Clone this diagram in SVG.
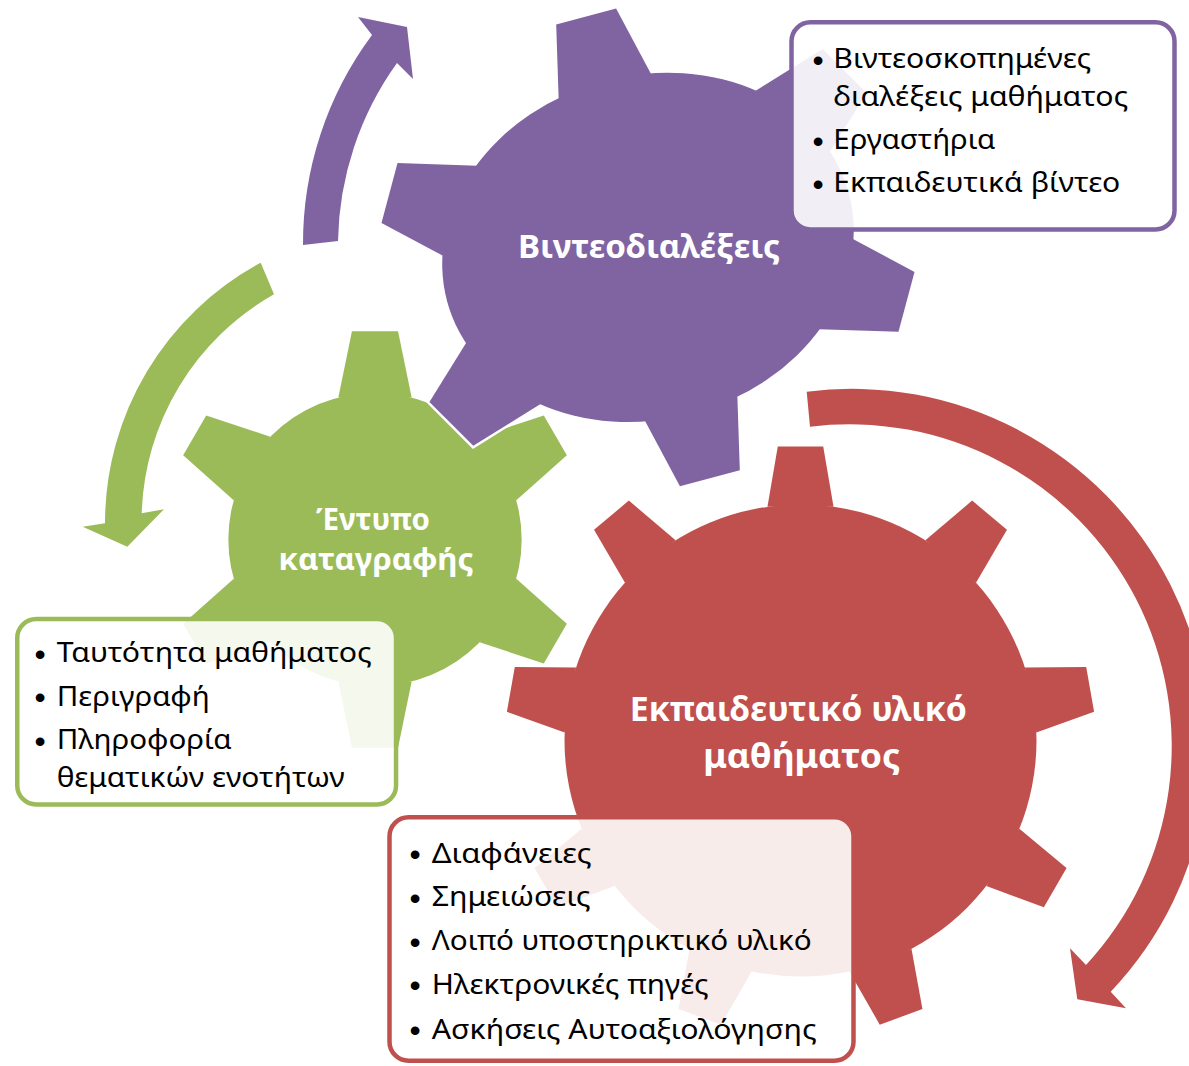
<svg xmlns="http://www.w3.org/2000/svg" xmlns:xlink="http://www.w3.org/1999/xlink" width="1189" height="1066" viewBox="0 0 1189 1066">
<defs>
<style>
.title{font-family:"Noto Sans","Open Sans","DejaVu Sans",sans-serif;font-weight:bold;fill:#ffffff;text-anchor:middle;}
.item{font-family:"Noto Sans","Open Sans","DejaVu Sans",sans-serif;font-size:26.5px;fill:#000000;}
.bul{font-family:"Liberation Sans",Arial,sans-serif;font-size:32px;fill:#000000;text-anchor:middle;}
.box{fill:#ffffff;fill-opacity:0.89;stroke-width:4.5;}
</style>
<polygon id="t6" points="-17.5,-67.78 -11,-99.39 11,-99.39 17.5,-67.78"/>
<g id="gear6">
<circle r="70"/>
<use href="#t6"/>
<use href="#t6" transform="rotate(60)"/>
<use href="#t6" transform="rotate(120)"/>
<use href="#t6" transform="rotate(180)"/>
<use href="#t6" transform="rotate(240)"/>
<use href="#t6" transform="rotate(300)"/>
</g>
<polygon id="t9" points="-11.2,-79.21 -7.7,-99.7 7.7,-99.7 11.2,-79.21"/>
<g id="gear9">
<circle r="80"/>
<use href="#t9"/>
<use href="#t9" transform="rotate(40)"/>
<use href="#t9" transform="rotate(80)"/>
<use href="#t9" transform="rotate(120)"/>
<use href="#t9" transform="rotate(160)"/>
<use href="#t9" transform="rotate(200)"/>
<use href="#t9" transform="rotate(240)"/>
<use href="#t9" transform="rotate(280)"/>
<use href="#t9" transform="rotate(320)"/>
</g>
<g id="gearP">
<ellipse rx="208" ry="172"/>
<polygon points="-50.8,-154 -31,-239 31,-239 50.8,-154"/>
<polygon points="136.6,-121 220.1,-146.35 251.1,-92.65 187.4,-33"/>
<polygon points="187.4,33 251.1,92.65 220.1,146.35 136.6,121"/>
<polygon points="50.8,154 31,239 -31,239 -50.8,154"/>
<polygon points="-187.4,33 -251.1,92.65 -220.1,146.35 -136.6,121"/>
<polygon points="-136.6,-121 -220.1,-146.35 -251.1,-92.65 -187.4,-33"/>
</g>
</defs>

<g id="connectors">
<path id="arrow-purple" fill="#8064A2" d="M303,245 A349,349 0 0 1 372,35 L358,17 L407,27 L413,79 L397,63 A314,314 0 0 0 338,241 Z"/>
<path id="arrow-green" fill="#9BBB59" d="M260.7,262.7 A296,296 0 0 0 105,523.3 L82.7,526.7 L127.3,546.7 L164,509.3 L141.7,513.3 A260.5,260.5 0 0 1 274,294.3 Z"/>
<path id="arrow-red" fill="#C0504D" d="M806.7,391.7 A357,357 0 0 1 1110.7,991.7 L1126,1008.3 L1077.3,999.3 L1070,948.3 L1086,965 A322,322 0 0 0 810,426.7 Z"/>
</g>

<g id="node-green">
<g transform="translate(375,539.5) scale(2.095)">
<use href="#gear6" fill="#9BBB59" stroke="#ffffff" stroke-width="2.4"/>
<use href="#gear6" fill="#9BBB59"/>
</g>
<text class="title" font-size="30" x="373" y="530" textLength="114" lengthAdjust="spacingAndGlyphs">Έντυπο</text>
<text class="title" font-size="30" x="376" y="570" textLength="195" lengthAdjust="spacingAndGlyphs">καταγραφής</text>
<rect class="box" stroke="#9BBB59" x="17.25" y="619" width="378.8" height="185.5" rx="19" ry="19"/>
<text class="bul" x="40" y="664.5">•</text>
<text class="item" x="56.7" y="662" textLength="315" lengthAdjust="spacingAndGlyphs">Ταυτότητα μαθήματος</text>
<text class="bul" x="40" y="708">•</text>
<text class="item" x="56.7" y="705.5" textLength="153" lengthAdjust="spacingAndGlyphs">Περιγραφή</text>
<text class="bul" x="40" y="751.5">•</text>
<text class="item" x="56.7" y="749" textLength="175" lengthAdjust="spacingAndGlyphs">Πληροφορία</text>
<text class="item" x="56.7" y="787" textLength="288" lengthAdjust="spacingAndGlyphs">θεματικών ενοτήτων</text>
</g>

<g id="node-red">
<g transform="translate(800.5,740.5) scale(2.95)">
<use href="#gear9" fill="#C0504D" stroke="#ffffff" stroke-width="1.7"/>
<use href="#gear9" fill="#C0504D"/>
</g>
<text class="title" font-size="34" x="798.3" y="721" textLength="337" lengthAdjust="spacingAndGlyphs">Εκπαιδευτικό υλικό</text>
<text class="title" font-size="34" x="801.8" y="768" textLength="197" lengthAdjust="spacingAndGlyphs">μαθήματος</text>
<rect class="box" stroke="#C0504D" x="389.5" y="817.25" width="464" height="243.5" rx="19" ry="19"/>
<text class="bul" x="415" y="865">•</text>
<text class="item" x="431.7" y="862.5" textLength="160" lengthAdjust="spacingAndGlyphs">Διαφάνειες</text>
<text class="bul" x="415" y="908.5">•</text>
<text class="item" x="431.7" y="906" textLength="159" lengthAdjust="spacingAndGlyphs">Σημειώσεις</text>
<text class="bul" x="415" y="952.5">•</text>
<text class="item" x="431.7" y="950" textLength="380" lengthAdjust="spacingAndGlyphs">Λοιπό υποστηρικτικό υλικό</text>
<text class="bul" x="415" y="996">•</text>
<text class="item" x="431.7" y="993.5" textLength="277" lengthAdjust="spacingAndGlyphs">Ηλεκτρονικές πηγές</text>
<text class="bul" x="415" y="1041">•</text>
<text class="item" x="431.7" y="1038.5" textLength="385" lengthAdjust="spacingAndGlyphs">Ασκήσεις Αυτοαξιολόγησης</text>
</g>

<g id="node-purple">
<g transform="translate(648,247.4) rotate(-15)">
<use href="#gearP" fill="#8064A2" stroke="#ffffff" stroke-width="5"/>
<use href="#gearP" fill="#8064A2"/>
</g>
<text class="title" font-size="33" x="649" y="258" textLength="262" lengthAdjust="spacingAndGlyphs">Βιντεοδιαλέξεις</text>
<rect class="box" stroke="#8064A2" x="791.5" y="22.25" width="383" height="207.2" rx="19" ry="19"/>
<text class="bul" x="818" y="70.5">•</text>
<text class="item" x="833.3" y="68" textLength="258" lengthAdjust="spacingAndGlyphs">Βιντεοσκοπημένες</text>
<text class="item" x="833.3" y="105.5" textLength="295" lengthAdjust="spacingAndGlyphs">διαλέξεις μαθήματος</text>
<text class="bul" x="818" y="151.5">•</text>
<text class="item" x="833.3" y="149" textLength="162" lengthAdjust="spacingAndGlyphs">Εργαστήρια</text>
<text class="bul" x="818" y="194.5">•</text>
<text class="item" x="833.3" y="192" textLength="287" lengthAdjust="spacingAndGlyphs">Εκπαιδευτικά βίντεο</text>
</g>
</svg>
